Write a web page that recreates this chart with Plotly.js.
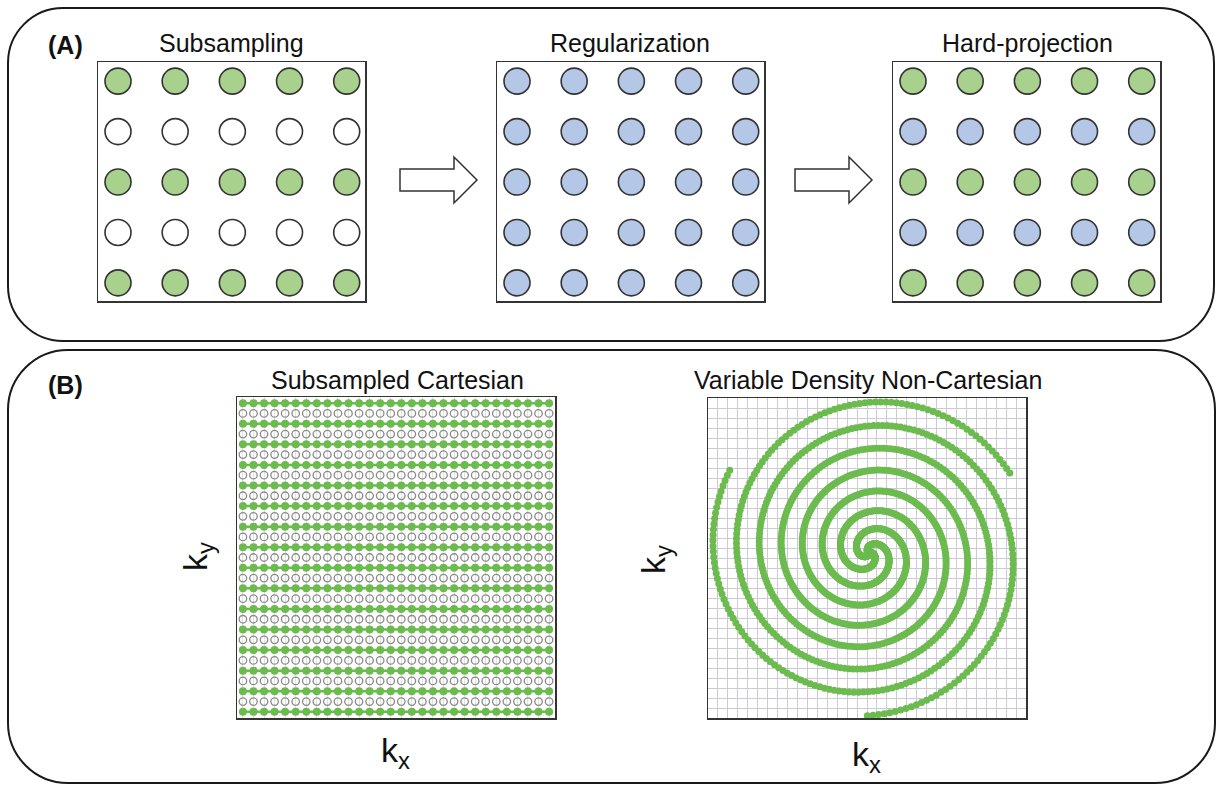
<!DOCTYPE html>
<html>
<head>
<meta charset="utf-8">
<script src="https://cdn.plot.ly/plotly-3.0.1.min.js"></script>
<style>html,body{margin:0;padding:0;background:#fff;}#chart{width:1222px;height:785px;}</style>
</head>
<body>
<div id="chart"></div>
<script>
// ---------------- DATA ----------------
// Panel A: 5x5 k-space grid
const gridCols = [1, 2, 3, 4, 5];
const gridRows = [1, 2, 3, 4, 5];
const subsampledRows = [1, 3, 5];     // acquired (green)
const missingRows = [2, 4];           // not acquired (empty)
const regularizedRows = [1, 2, 3, 4, 5]; // all estimated (blue)
const projectedAcquiredRows = [1, 3, 5]; // restored measured (green)
const projectedEstimatedRows = [2, 4];   // estimated (blue)

// Panel titles
const panelTitlesA = ["Subsampling", "Regularization", "Hard-projection"];
const panelTitlesB = ["Subsampled Cartesian", "Variable Density Non-Cartesian"];

// Panel B: Cartesian grid
const cartColumns = Array.from({length: 30}, (_, i) => i);
const cartRowsAll = Array.from({length: 31}, (_, i) => i);
const cartAcquiredRows = cartRowsAll.filter(r => r % 2 === 0);
const cartMissingRows = cartRowsAll.filter(r => r % 2 === 1);

// Panel B: variable-density spiral trajectory parameters
const spiralArms = 3;
const spiralTurns = 2.7;
const spiralRadius = 16.3;
const spiralPower = 1.2;
const spiralEndAnglesDeg = [28, 148, 268];
const spiralCenter = [0.2, 0.5];
const spiralStep = 0.035;

// ---------------- HELPERS ----------------
const W = 1222, H = 785;
const FONT = "Liberation Sans, Arial, Helvetica, sans-serif";
const dx = (a, b) => [a / W, b / W];
const dy = (a, b) => [1 - b / H, 1 - a / H];
const P = (x, y) => (x / W).toFixed(5) + "," + (1 - y / H).toFixed(5);

function roundRect(x0, y0, x1, y1, r) {
  const k = 0.5523 * r;
  return "M" + P(x0 + r, y0) + " L" + P(x1 - r, y0) +
    " C" + P(x1 - r + k, y0) + " " + P(x1, y0 + r - k) + " " + P(x1, y0 + r) +
    " L" + P(x1, y1 - r) +
    " C" + P(x1, y1 - r + k) + " " + P(x1 - r + k, y1) + " " + P(x1 - r, y1) +
    " L" + P(x0 + r, y1) +
    " C" + P(x0 + r - k, y1) + " " + P(x0, y1 - r + k) + " " + P(x0, y1 - r) +
    " L" + P(x0, y0 + r) +
    " C" + P(x0, y0 + r - k) + " " + P(x0 + r - k, y0) + " " + P(x0 + r, y0) + " Z";
}
function arrow(x0, tipX, yc) {
  const hx = tipX - 23;
  return "M" + P(x0, yc - 11) + " L" + P(hx, yc - 11) + " L" + P(hx, yc - 23) +
    " L" + P(tipX, yc) + " L" + P(hx, yc + 23) + " L" + P(hx, yc + 11) +
    " L" + P(x0, yc + 11) + " Z";
}
function gridPts(rows) {
  const x = [], y = [];
  rows.forEach(r => gridCols.forEach(c => { x.push(c); y.push(r); }));
  return {x, y};
}

const GREEN_A = "#a9d18e", BLUE_A = "#b4c7e7", EDGE = "#333333";
const GREEN_B = "#6cbb4f";

function dotTrace(rows, fill, ax) {
  const p = gridPts(rows);
  return {
    type: "scatter", mode: "markers", x: p.x, y: p.y,
    xaxis: "x" + ax, yaxis: "y" + ax, hoverinfo: "skip",
    marker: {size: 26, color: fill, line: {color: EDGE, width: 1.6}}
  };
}

const traces = [];
traces.push(dotTrace(subsampledRows, GREEN_A, ""));
traces.push(dotTrace(missingRows, "#ffffff", ""));
traces.push(dotTrace(regularizedRows, BLUE_A, "2"));
traces.push(dotTrace(projectedAcquiredRows, GREEN_A, "3"));
traces.push(dotTrace(projectedEstimatedRows, BLUE_A, "3"));

// Cartesian
(function () {
  const ox = [], oy = [];
  cartMissingRows.forEach(r => cartColumns.forEach(c => { ox.push(c); oy.push(r); }));
  traces.push({
    type: "scatter", mode: "markers", x: ox, y: oy, xaxis: "x4", yaxis: "y4", hoverinfo: "skip",
    marker: {symbol: "circle-open", size: 7.5, color: "#8a8a8a", line: {width: 1.3, color: "#8a8a8a"}}
  });
  const gx = [], gy = [];
  cartAcquiredRows.forEach(r => {
    cartColumns.forEach(c => { gx.push(c); gy.push(r); });
    gx.push(null); gy.push(null);
  });
  traces.push({
    type: "scatter", mode: "lines+markers", x: gx, y: gy, xaxis: "x4", yaxis: "y4", hoverinfo: "skip",
    line: {color: GREEN_B, width: 2.5}, connectgaps: false,
    marker: {size: 8, color: GREEN_B}
  });
})();

// Spiral
(function () {
  const sx = [], sy = [];
  const phiMax = spiralTurns * 2 * Math.PI;
  for (let a = 0; a < spiralArms; a++) {
    const th0 = spiralEndAnglesDeg[a] * Math.PI / 180 + phiMax;
    for (let phi = 0; phi <= phiMax + 1e-9; phi += spiralStep) {
      const r = spiralRadius * Math.pow(phi / phiMax, spiralPower);
      const th = th0 - phi;
      sx.push(spiralCenter[0] + r * Math.cos(th));
      sy.push(spiralCenter[1] + r * Math.sin(th));
    }
  }
  traces.push({
    type: "scatter", mode: "markers", x: sx, y: sy, xaxis: "x5", yaxis: "y5", hoverinfo: "skip",
    marker: {size: 7, color: GREEN_B}
  });
})();

// ---------------- LAYOUT ----------------
const frame = {showline: true, mirror: true, linecolor: EDGE, linewidth: 1.5,
  showgrid: false, zeroline: false, showticklabels: false, ticks: "", fixedrange: true};
const sqY = dy(62, 301);
const rngX = [0.65, 5.32], rngY = [5.36, 0.62];
const ax = (o) => Object.assign({}, frame, o);

const layout = {
  width: W, height: H, margin: {l: 0, r: 0, t: 0, b: 0},
  paper_bgcolor: "#ffffff", plot_bgcolor: "rgba(0,0,0,0)", showlegend: false,
  font: {family: FONT, color: "#111"},
  xaxis:  ax({domain: dx(98, 365), range: rngX, anchor: "y"}),
  yaxis:  ax({domain: sqY, range: rngY, anchor: "x"}),
  xaxis2: ax({domain: dx(497, 764), range: rngX, anchor: "y2"}),
  yaxis2: ax({domain: sqY, range: rngY, anchor: "x2"}),
  xaxis3: ax({domain: dx(893, 1160), range: rngX, anchor: "y3"}),
  yaxis3: ax({domain: sqY, range: rngY, anchor: "x3"}),
  xaxis4: ax({domain: dx(237, 555), range: [-0.56, 29.56], anchor: "y4",
    showgrid: true, gridcolor: "#e2e2e2", gridwidth: 1, dtick: 1, tick0: 0}),
  yaxis4: ax({domain: dy(397, 718), range: [30.6, -0.6], anchor: "x4"}),
  xaxis5: ax({domain: dx(708, 1026), range: [-16, 16], anchor: "y5",
    showgrid: true, gridcolor: "#cdcad6", gridwidth: 1, dtick: 1, tick0: 0}),
  yaxis5: ax({domain: dy(398, 718), range: [-16, 16], anchor: "x5",
    showgrid: true, gridcolor: "#cdcad6", gridwidth: 1, dtick: 1, tick0: 0}),
  shapes: [
    {type: "path", xref: "paper", yref: "paper", path: roundRect(8, 8, 1214, 341, 55),
      line: {color: "#1a1a1a", width: 2}, fillcolor: "rgba(0,0,0,0)", layer: "below"},
    {type: "path", xref: "paper", yref: "paper", path: roundRect(8, 350, 1215, 783, 60),
      line: {color: "#1a1a1a", width: 2}, fillcolor: "rgba(0,0,0,0)", layer: "below"},
    {type: "path", xref: "paper", yref: "paper", path: arrow(400, 477, 180),
      line: {color: EDGE, width: 1.5}, fillcolor: "#ffffff"},
    {type: "path", xref: "paper", yref: "paper", path: arrow(795, 872, 180),
      line: {color: EDGE, width: 1.5}, fillcolor: "#ffffff"}
  ],
  annotations: []
};

function label(text, x, y, size, extra) {
  layout.annotations.push(Object.assign({
    text: text, xref: "paper", yref: "paper", x: x / W, y: 1 - y / H,
    xanchor: "center", yanchor: "middle", showarrow: false,
    font: {family: FONT, size: size, color: "#111"}
  }, extra || {}));
}
label("<b>(A)</b>", 65, 45, 25);
label(panelTitlesA[0], 231, 43, 25);
label(panelTitlesA[1], 630, 43, 25);
label(panelTitlesA[2], 1027, 43, 25);
label("<b>(B)</b>", 65, 385, 25);
label(panelTitlesB[0], 397, 380, 25);
label(panelTitlesB[1], 868, 380, 25);
label("k<sub>x</sub>", 396, 752, 34);
label("k<sub>x</sub>", 866, 756, 34);
label("k<sub>y</sub>", 197, 557, 34, {textangle: -90});
label("k<sub>y</sub>", 655, 560, 34, {textangle: -90});

Plotly.newPlot("chart", traces, layout, {displayModeBar: false, staticPlot: true});
</script>
</body>
</html>
